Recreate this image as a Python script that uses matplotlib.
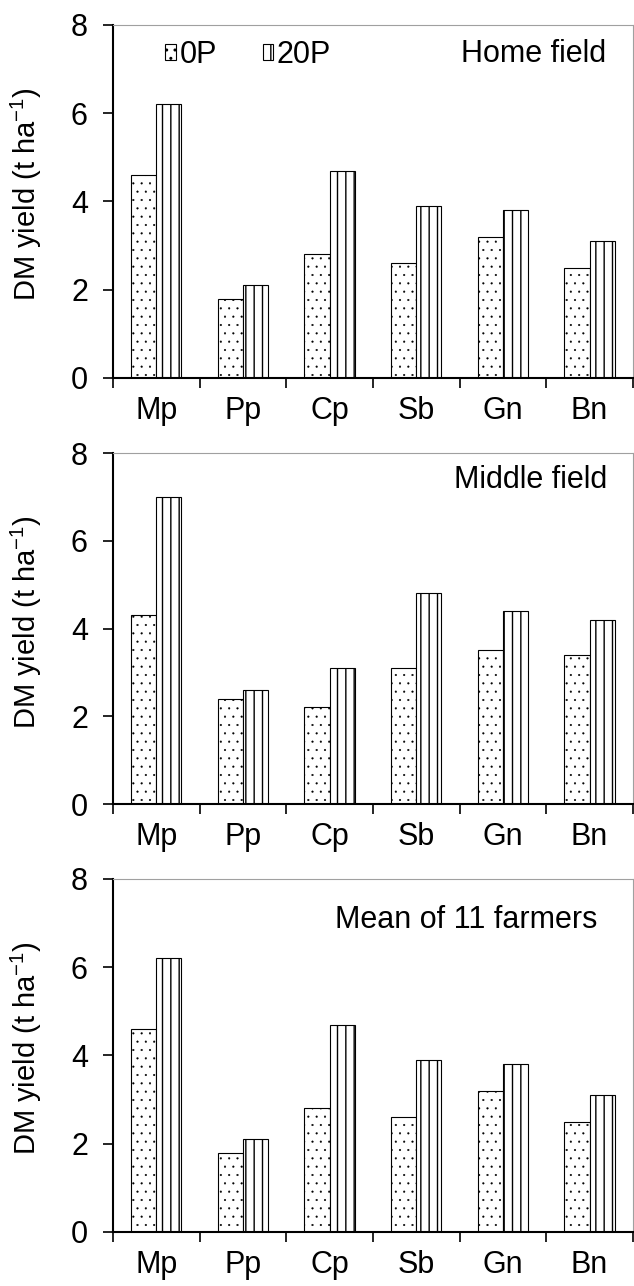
import numpy as np
import matplotlib.pyplot as plt

plt.rcParams['font.family'] = ['Liberation Sans', 'DejaVu Sans']
plt.rcParams['mathtext.default'] = 'regular'
plt.rcParams['hatch.linewidth'] = 1.0
plt.rcParams['hatch.color'] = 'black'

crops = ['Mp', 'Pp', 'Cp', 'Sb', 'Gn', 'Bn']
panel_titles = ['Home field', 'Middle field', 'Mean of 11 farmers']

# DM yield, t/ha, without and with 20 kg P
home_0p = [4.6, 1.8, 2.8, 2.6, 3.2, 2.5]
home_20p = [6.2, 2.1, 4.7, 3.9, 3.8, 3.1]
middle_0p = [4.3, 2.4, 2.2, 3.1, 3.5, 3.4]
middle_20p = [7.0, 2.6, 3.1, 4.8, 4.4, 4.2]
mean_0p = [4.6, 1.8, 2.8, 2.6, 3.2, 2.5]
mean_20p = [6.2, 2.1, 4.7, 3.9, 3.8, 3.1]

yticks = [0, 2, 4, 6, 8]

fig = plt.figure(figsize=(6.34, 12.86), dpi=100)

# axes boxes (left, bottom, width, height) in figure fraction
boxes = [(0.1782, 0.7061, 0.820, 0.2745),
         (0.1782, 0.3748, 0.820, 0.2729),
         (0.1782, 0.0420, 0.820, 0.2745)]
title_pos = [(0.948, 0.918), (0.950, 0.923), (0.931, 0.884)]
data = [(home_0p, home_20p), (middle_0p, middle_20p), (mean_0p, mean_20p)]

fs = 22
bw = 0.29
x = np.arange(len(crops)) + 0.5

for i in range(3):
    ax = fig.add_axes(boxes[i])
    y0, y20 = data[i]
    b0 = ax.bar(x - bw / 2, y0, bw, color='white', edgecolor='black',
                linewidth=0.8, hatch='..', label='0P')
    b20 = ax.bar(x + bw / 2, y20, bw, color='white', edgecolor='black',
                 linewidth=0.8, hatch='||', label='20P')
    # finer dots for the 0P fill
    for p in b0:
        if hasattr(p, 'set_hatch_linewidth'):
            p.set_hatch_linewidth(0.3)

    ax.set_xlim(0, 6)
    ax.set_ylim(0, 8)
    ax.set_yticks(yticks)
    ax.tick_params(axis='y', direction='out', length=7, width=1.2,
                   labelsize=fs, pad=11)

    # ticks on category boundaries, labels in the middle
    ax.set_xticks(np.arange(7))
    ax.set_xticklabels([])
    ax.tick_params(axis='x', which='major', direction='out', length=7, width=1.2)
    ax.set_xticks(x, minor=True)
    ax.set_xticklabels(crops, minor=True)
    ax.tick_params(axis='x', which='minor', length=0, labelsize=fs, pad=13)

    for s in ['left', 'bottom']:
        ax.spines[s].set_linewidth(1.5)
    for s in ['top', 'right']:
        ax.spines[s].set_color('#a0a0a0')
        ax.spines[s].set_linewidth(0.8)

    ax.set_ylabel('DM yield (t ha$^{-1}$)', fontsize=21)
    ax.yaxis.set_label_coords(-0.132, 0.52)

    ax.text(title_pos[i][0], title_pos[i][1], panel_titles[i], transform=ax.transAxes,
            ha='right', va='center', fontsize=fs)

    if i == 0:
        ax.legend(handles=[b0, b20], loc='center left', bbox_to_anchor=(0.1, 0.915),
                  ncol=2, frameon=False, fontsize=fs, borderpad=0, borderaxespad=0,
                  handlelength=0.35, handleheight=0.45, handletextpad=0.12,
                  columnspacing=1.5)

fig.savefig('out.png', dpi=100)
